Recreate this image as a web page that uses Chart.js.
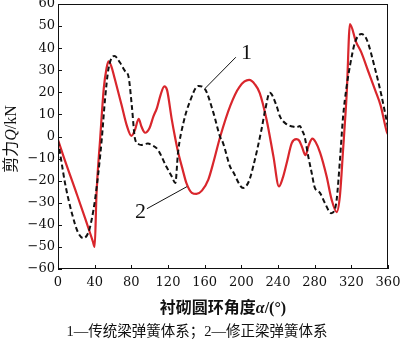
<!DOCTYPE html>
<html>
<head>
<meta charset="utf-8">
<script src="https://cdn.jsdelivr.net/npm/chart.js@4"></script>
<style>
  html, body { margin: 0; padding: 0; background: #fff; }
  #wrap { width: 400px; height: 346px; }
</style>
</head>
<body>
<div id="wrap"><canvas id="chart" width="400" height="346"></canvas></div>
<script>
// curve 1: traditional beam-spring model (dashed black)
const ANGLE_1 = [0, 4, 7.6, 15, 22, 27.6, 33, 36.7, 40.4, 44, 47.7, 51.3, 55, 61.5, 67.6, 73, 77, 80.5, 84, 88, 91, 98, 103, 109, 118, 124, 128, 131, 137, 144, 153, 160, 169.5, 176.7, 180, 187.6, 191, 202, 208, 213, 222, 226, 231, 238.5, 242, 249.5, 256, 260, 264, 266, 269, 273, 277, 280, 285.8, 291, 298, 301, 304, 307.6, 311, 315, 318.5, 324, 331, 336.7, 346, 353, 360];
const SHEAR_1 = [-2, -12, -21, -34.5, -43.6, -46, -43.6, -37.7, -28.6, -16.5, -1.4, 16.8, 30.5, 36.5, 33.5, 29.7, 27, 14, -1, -3.5, -3.8, -3.2, -4, -6, -13.5, -18, -21, -7, 6.5, 16, 22.9, 21.7, 10.8, 0, -2.9, -13.5, -16, -23.3, -20.5, -13.5, 3.2, 12, 19.8, 13.8, 9.2, 5.5, 4.5, 4.2, 4.7, 3, 0, -9, -17, -23, -25.5, -30, -34.7, -34, -28.6, -10.5, 9, 23, 32, 42.6, 46.4, 44, 30.5, 18.3, 4];

// curve 2: corrected beam-spring model (solid red)
const ANGLE_2 = [0, 6, 20, 30, 38, 40, 42, 46, 50, 53, 55, 58, 62, 69.5, 75, 80, 84, 88, 91, 95, 100, 104, 108, 112, 116, 119, 124, 128, 131, 136, 140, 146, 151, 157, 164, 170, 177, 188, 198, 208.5, 215, 220, 227.5, 235, 241, 245, 249.5, 255, 260, 263, 266, 270, 273.5, 277.5, 281, 286, 293, 298.5, 304, 307.5, 311, 315, 318.5, 325, 331, 338, 346, 352, 358.5, 360];
const SHEAR_2 = [-1.5, -9, -25.5, -37.5, -47.5, -50, -26, -1, 22, 31, 34, 32, 26, 14, 5, 0.3, 3, 8, 4.5, 1.7, 4, 9, 13, 19, 22.7, 21, 8, -1, -7, -15, -21, -25.5, -26, -24.5, -19.5, -11, 0, 14, 22.5, 25.6, 23.5, 19.8, 7.7, -9, -22.6, -19, -12, -3, -1.2, -1.8, -4.5, -8.5, -4, -1, -2.5, -7.4, -18, -28.6, -34.2, -27, -6, 19.8, 50.9, 43, 38, 30, 21, 14, 2.4, 1];

const X_TICKS = [0, 40, 80, 120, 160, 200, 240, 280, 320, 360];
const Y_TICKS = [-60, -50, -40, -30, -20, -10, 0, 10, 20, 30, 40, 50, 60];

const LABEL_1 = '1';
const LABEL_2 = '2';
const X_TITLE = [['衬砌圆环角度', false], ['α', true], ['/(°)', false]];
const Y_TITLE = [['剪力', false], ['Q', true], ['/kN', false]];
const CAPTION = '1—传统梁弹簧体系；2—修正梁弹簧体系';

const RED = '#d9262c';
const INK = '#111';
const SERIF = '"Liberation Serif", "Noto Sans CJK SC", serif';
const TICK_FONT = '"DejaVu Serif", serif';

const toPoints = (xs, ys) => xs.map((x, i) => ({ x, y: ys[i] }));

// mixed roman/italic text run, centred on x
function drawRun(ctx, parts, x, y, size, weight) {
  let total = 0;
  const widths = parts.map(([t, it]) => {
    ctx.font = `${it ? 'italic ' : ''}${weight} ${size}px ${SERIF}`;
    const w = ctx.measureText(t).width;
    total += w;
    return w;
  });
  let cx = x - total / 2;
  parts.forEach(([t, it], i) => {
    ctx.font = `${it ? 'italic ' : ''}${weight} ${size}px ${SERIF}`;
    ctx.fillText(t, cx, y);
    cx += widths[i];
  });
}

const decor = {
  id: 'decor',
  afterDraw(chart) {
    const { ctx, chartArea: a, scales: { x, y } } = chart;
    ctx.save();
    ctx.strokeStyle = INK;
    ctx.lineWidth = 1;
    ctx.strokeRect(a.left + 0.5, a.top + 0.5, a.right - a.left - 1, a.bottom - a.top - 1);

    // inward ticks
    ctx.beginPath();
    X_TICKS.forEach((v) => {
      const px = Math.round(x.getPixelForValue(v)) + 0.5;
      ctx.moveTo(px, a.bottom);
      ctx.lineTo(px, a.bottom - 4);
    });
    Y_TICKS.forEach((v) => {
      const py = Math.round(y.getPixelForValue(v)) + 0.5;
      ctx.moveTo(a.left, py);
      ctx.lineTo(a.left + 4, py);
    });
    ctx.stroke();

    // leader lines + curve numbers
    ctx.beginPath();
    ctx.moveTo(x.getPixelForValue(160.5), y.getPixelForValue(21.8));
    ctx.lineTo(x.getPixelForValue(194), y.getPixelForValue(35.9));
    ctx.moveTo(x.getPixelForValue(97), y.getPixelForValue(-32.7));
    ctx.lineTo(x.getPixelForValue(140.7), y.getPixelForValue(-22.7));
    ctx.stroke();
    ctx.fillStyle = INK;
    ctx.textAlign = 'center';
    ctx.textBaseline = 'middle';
    ctx.font = `22px ${SERIF}`;
    ctx.fillText(LABEL_1, x.getPixelForValue(205.5), y.getPixelForValue(37.5));
    ctx.fillText(LABEL_2, x.getPixelForValue(90), y.getPixelForValue(-34.5));

    // axis titles and caption
    ctx.textAlign = 'left';
    drawRun(ctx, X_TITLE, (a.left + a.right) / 2, 309, 16, 'bold');
    ctx.save();
    ctx.translate(12, 139);
    ctx.rotate(-Math.PI / 2);
    drawRun(ctx, Y_TITLE, 0, 0, 16, 'normal');
    ctx.restore();
    ctx.font = `14.5px ${SERIF}`;
    ctx.textAlign = 'center';
    ctx.fillText(CAPTION, 197, 332);
    ctx.restore();
  },
};

new Chart(document.getElementById('chart'), {
  type: 'line',
  data: {
    datasets: [
      {
        label: LABEL_1,
        data: toPoints(ANGLE_1, SHEAR_1),
        borderColor: INK,
        borderWidth: 2,
        borderDash: [5, 3],
        pointRadius: 0,
        cubicInterpolationMode: 'monotone',
      },
      {
        label: LABEL_2,
        data: toPoints(ANGLE_2, SHEAR_2),
        borderColor: RED,
        borderWidth: 2.2,
        pointRadius: 0,
        cubicInterpolationMode: 'monotone',
      },
    ],
  },
  options: {
    responsive: false,
    animation: false,
    layout: { padding: { top: 4, right: 12, left: 0, bottom: 0 } },
    plugins: { legend: { display: false }, tooltip: { enabled: false } },
    scales: {
      x: {
        type: 'linear',
        min: 0,
        max: 360,
        afterBuildTicks(s) { s.ticks = X_TICKS.map((value) => ({ value })); },
        afterFit(s) { s.height = 77; s.paddingLeft = 0; s.paddingRight = 0; },
        grid: { display: false, drawTicks: false },
        border: { display: false },
        ticks: { color: INK, padding: 6, maxRotation: 0, font: { family: TICK_FONT, size: 13 } },
      },
      y: {
        min: -60,
        max: 60,
        afterBuildTicks(s) { s.ticks = Y_TICKS.map((value) => ({ value })); },
        afterFit(s) { s.width = 58; s.paddingTop = 0; s.paddingBottom = 0; },
        grid: { display: false, drawTicks: false },
        border: { display: false },
        ticks: {
          color: INK,
          padding: 3,
          font: { family: TICK_FONT, size: 13 },
          callback: (v) => (v < 0 ? '\u2212' + Math.abs(v) : String(v)),
        },
      },
    },
  },
  plugins: [decor],
});
</script>
</body>
</html>
